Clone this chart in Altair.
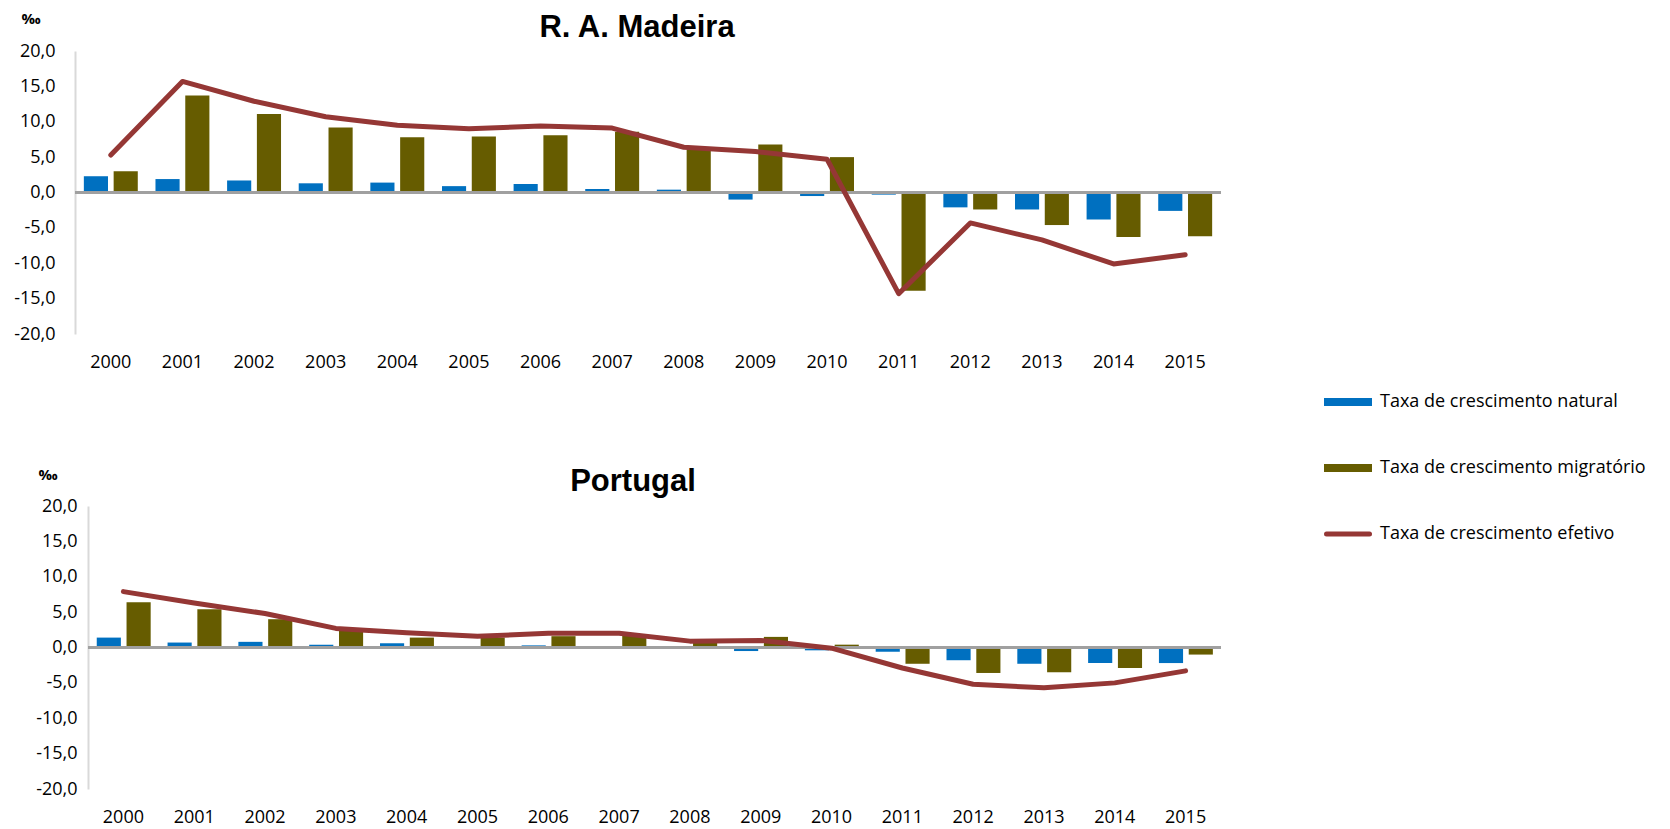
import altair as alt
import pandas as pd

years = [str(y) for y in range(2000, 2016)]

madeira_natural = [2.3, 1.9, 1.7, 1.3, 1.4, 0.9, 1.2, 0.5, 0.4, -1.0, -0.5, -0.3, -2.1, -2.4, -3.8, -2.6]
madeira_migratorio = [3.0, 13.7, 11.1, 9.2, 7.8, 7.9, 8.1, 8.6, 6.0, 6.8, 5.0, -13.9, -2.4, -4.6, -6.3, -6.2]
madeira_efetivo = [5.3, 15.7, 12.9, 10.7, 9.5, 9.0, 9.4, 9.1, 6.4, 5.8, 4.7, -14.3, -4.3, -6.7, -10.1, -8.8]

portugal_natural = [1.4, 0.7, 0.8, 0.4, 0.6, 0.1, 0.3, 0.1, 0.0, -0.5, -0.4, -0.6, -1.8, -2.3, -2.2, -2.2]
portugal_migratorio = [6.4, 5.4, 4.0, 2.4, 1.4, 1.4, 1.6, 1.9, 0.9, 1.5, 0.4, -2.3, -3.6, -3.5, -2.9, -1.0]
portugal_efetivo = [7.9, 6.3, 4.8, 2.7, 2.1, 1.6, 2.0, 2.0, 0.9, 1.0, -0.1, -2.9, -5.2, -5.7, -5.0, -3.3]

series_names = ["Taxa de crescimento natural", "Taxa de crescimento migratório", "Taxa de crescimento efetivo"]
series_colors = ["#0070C0", "#665C00", "#953735"]
y_ticks = [-20, -15, -10, -5, 0, 5, 10, 15, 20]
unit_label = ["‰"]
titles = ["R. A. Madeira", "Portugal"]

FONT = "Open Sans"

def long_df(nat, mig, efe):
    rows = []
    for i, yr in enumerate(years):
        rows.append({"ano": yr, "serie": series_names[0], "valor": nat[i]})
        rows.append({"ano": yr, "serie": series_names[1], "valor": mig[i]})
        rows.append({"ano": yr, "serie": series_names[2], "valor": efe[i]})
    return pd.DataFrame(rows)

color_scale = alt.Scale(domain=series_names, range=series_colors)

label_expr = "replace(replace(format(datum.value, '.1f'), '.', ','), '\u2212', '-')"

PLOT_W = 1146
PLOT_H = 283


def panel(df, title, xoff, title_x, title_y, label_pad, pct_x, pct_y):
    x_scale = alt.Scale(paddingInner=0.247, paddingOuter=0.1235, range=[xoff, PLOT_W])
    y_scale = alt.Scale(domain=[-20, 20], nice=False)
    x_enc = alt.X(
        "ano:N",
        sort=years,
        scale=x_scale,
        axis=alt.Axis(
            title=None, labelAngle=0, domain=False, ticks=False,
            labelFont=FONT, labelFontSize=18, labelColor="#000000", labelPadding=19,
        ),
    )
    y_axis = alt.Axis(
        values=y_ticks, labelExpr=label_expr, grid=False, ticks=False,
        domain=True, domainColor="#d9d9d9", domainWidth=2, offset=-xoff,
        labelFont=FONT, labelFontSize=18, labelColor="#000000", labelPadding=label_pad,
        labelOverlap=False, title=None,
    )
    y_enc = alt.Y("valor:Q", scale=y_scale, axis=y_axis)
    base = alt.Chart(df)
    bars = base.transform_filter(
        alt.FieldOneOfPredicate(field="serie", oneOf=series_names[:2])
    ).mark_bar().encode(
        x=x_enc,
        xOffset=alt.XOffset("serie:N", sort=series_names[:2],
                            scale=alt.Scale(paddingInner=0.19, paddingOuter=0)),
        y=y_enc,
        fill=alt.Fill("serie:N", scale=color_scale, legend=None),
    )
    zero = base.mark_rule(color="#a0a0a0", strokeWidth=2).encode(
        x=alt.value(xoff), x2=alt.value(PLOT_W), y=alt.YDatum(0, scale=y_scale, axis=y_axis)
    )
    line = base.transform_filter(
        alt.FieldEqualPredicate(field="serie", equal=series_names[2])
    ).mark_line(strokeWidth=5, strokeCap="round", strokeJoin="round").encode(
        x=x_enc,
        y=y_enc,
        stroke=alt.Stroke("serie:N", scale=color_scale, legend=None),
    )
    unit = alt.Chart(pd.DataFrame({"u": unit_label})).mark_text(
        font=FONT, fontSize=15, fontWeight="bold", color="#000000",
        align="center", baseline="middle",
    ).encode(text="u:N", x=alt.value(pct_x), y=alt.value(pct_y))
    ttl = alt.Chart(pd.DataFrame({"t": [title]})).mark_text(
        font="Liberation Sans", fontSize=31, fontWeight="bold", color="#000000",
        align="center", baseline="alphabetic",
    ).encode(text="t:N", x=alt.value(title_x), y=alt.value(title_y))
    return alt.layer(bars, zero, line, unit, ttl)


def legend_layer():
    leg_df = pd.DataFrame({"serie": series_names})
    leg_y = alt.Y(
        "serie:N",
        scale=alt.Scale(type="point", domain=series_names, range=[351, 483], padding=0),
        axis=None,
    )
    leg_bar = alt.Chart(leg_df).transform_filter(
        alt.FieldOneOfPredicate(field="serie", oneOf=series_names[:2])
    ).mark_rule(strokeWidth=8, strokeCap="butt").encode(
        x=alt.value(1249), x2=alt.value(1297), y=leg_y,
        stroke=alt.Stroke("serie:N", scale=color_scale, legend=None),
    )
    leg_line = alt.Chart(leg_df).transform_filter(
        alt.FieldEqualPredicate(field="serie", equal=series_names[2])
    ).mark_rule(strokeWidth=5, strokeCap="round").encode(
        x=alt.value(1251.5), x2=alt.value(1294.5), y=leg_y,
        stroke=alt.Stroke("serie:N", scale=color_scale, legend=None),
    )
    leg_text = alt.Chart(leg_df).mark_text(
        align="left", baseline="middle", font=FONT, fontSize=18, color="#000000",
    ).encode(x=alt.value(1305), y=leg_y, text="serie:N")
    return [leg_bar, leg_line, leg_text]


top_inner = panel(long_df(madeira_natural, madeira_migratorio, madeira_efetivo),
                  titles[0], 0, 562, -14, 20, -44, -32)
top = alt.layer(top_inner, *legend_layer()).resolve_scale(y="independent").properties(
    width=PLOT_W, height=PLOT_H
)
bottom = panel(long_df(portugal_natural, portugal_migratorio, portugal_efetivo),
               titles[1], 13, 558, -15, 11, -27, -31).properties(width=PLOT_W, height=PLOT_H)

chart = alt.vconcat(top, bottom, spacing=172, bounds="flush").properties(
    padding={"left": 5, "top": 4, "right": 5, "bottom": 5},
    background="#ffffff",
).configure_view(strokeWidth=0)

chart.save("out.html", embed_options={"renderer": "svg", "actions": False})
